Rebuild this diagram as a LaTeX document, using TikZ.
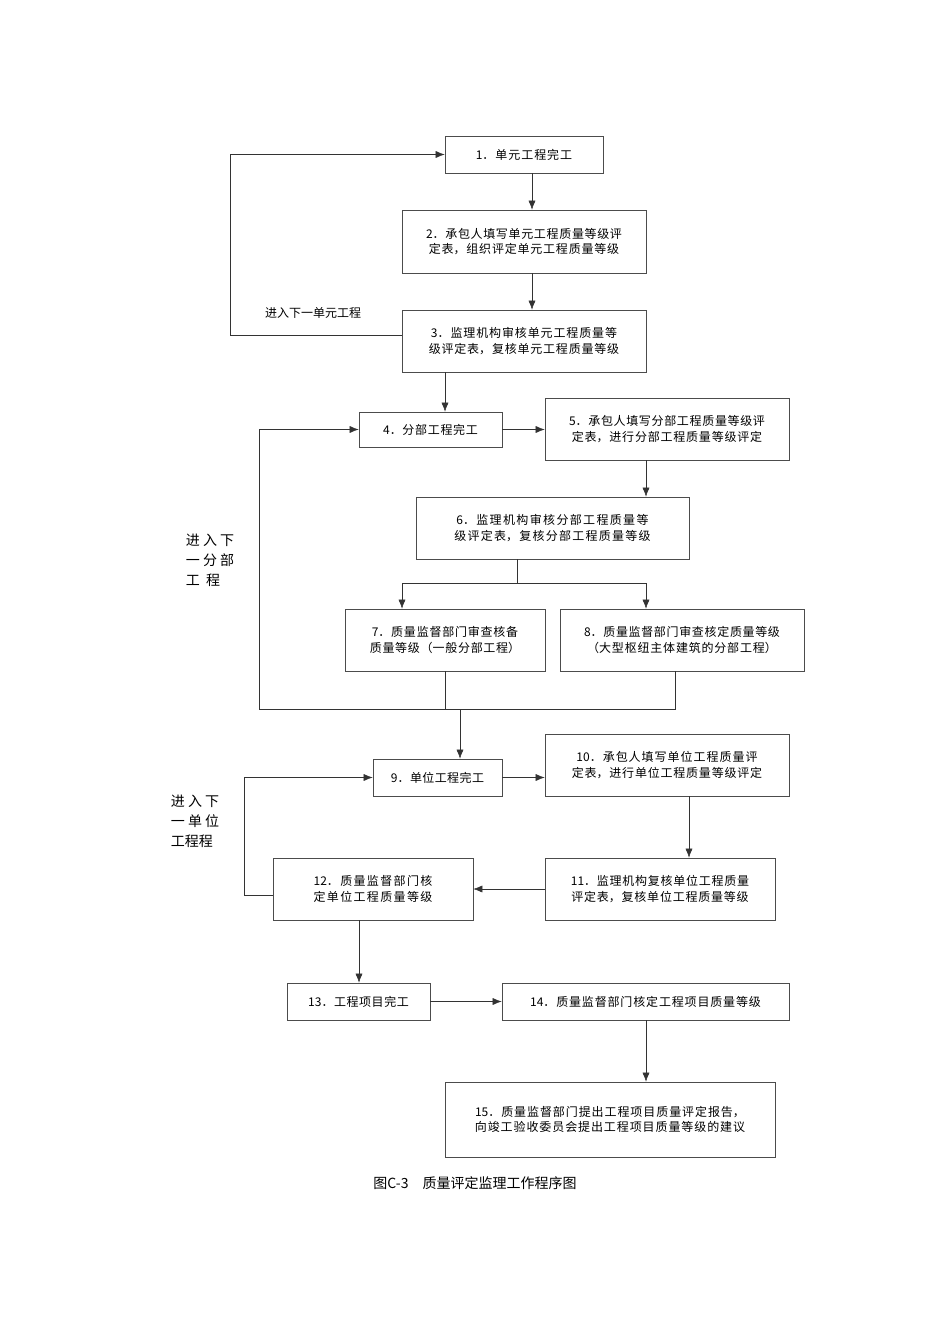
\documentclass[tikz,border=0pt]{standalone}
\usepackage{fontspec}
\setmainfont{Noto Sans CJK SC}
\XeTeXlinebreaklocale "zh"
\XeTeXlinebreakskip=0pt plus 1pt
\usetikzlibrary{arrows.meta,calc}
\tikzset{
  stepbox/.style={draw=black!70, line width=0.6pt, inner sep=2pt, align=center,
    font=\fontsize{12}{15.5}\selectfont},
  flow/.style={-{Latex[length=9pt,width=7pt]}, line width=0.5pt, black!80},
  plain/.style={line width=0.5pt, black!80},
}
% box from left/top/right/bottom in pixels
\newcommand{\flowbox}[6]{%
  \pgfmathsetlengthmacro{\boxW}{(#4-#2)*1pt}%
  \pgfmathsetlengthmacro{\boxH}{(#5-#3)*1pt}%
  \pgfmathsetlengthmacro{\boxT}{(#4-#2-16)*1pt}%
  \node[stepbox, minimum width=\boxW, minimum height=\boxH,
    text width=\boxT] (#1) at ({(#2+#4)/2},{(#3+#5)/2}) {#6};}

\begin{document}
\begin{tikzpicture}[x=1pt,y=-1pt]
    \useasboundingbox (0,0) rectangle (950,1344);

    % ---------- Boxes
    \flowbox{b1}{445}{136}{603}{173}{1．单元工程完工}
    \flowbox{b2}{402}{210}{646}{273}{2．承包人填写单元工程质量等级评定表，组织评定单元工程质量等级}
    \flowbox{b3}{402}{310}{646}{372}{3．监理机构审核单元工程质量等级评定表，复核单元工程质量等级}
    \flowbox{b4}{359}{412}{502}{447}{4．分部工程完工}
    \flowbox{b5}{545}{398}{789}{460}{5．承包人填写分部工程质量等级评定表，进行分部工程质量等级评定}
    \flowbox{b6}{416}{497}{689}{559}{6．监理机构审核分部工程质量等级评定表，复核分部工程质量等级}
    \flowbox{b7}{345}{609}{545}{671}{7．质量监督部门审查核备质量等级（一般分部工程）}
    \flowbox{b8}{560}{609}{804}{671}{8．质量监督部门审查核定质量等级（大型枢纽主体建筑的分部工程）}
    \flowbox{b9}{373}{759}{502}{796}{9．单位工程完工}
    \flowbox{b10}{545}{734}{789}{796}{10．承包人填写单位工程质量评定表，进行单位工程质量等级评定}
    \flowbox{b11}{545}{858}{775}{920}{11．监理机构复核单位工程质量评定表，复核单位工程质量等级}
    \flowbox{b12}{273}{858}{473}{920}{12．质量监督部门核定单位工程质量等级}
    \flowbox{b13}{287}{983}{430}{1020}{13．工程项目完工}
    \flowbox{b14}{502}{983}{789}{1020}{14．质量监督部门核定工程项目质量等级}
    \flowbox{b15}{445}{1082}{775}{1157}{15．质量监督部门提出工程项目质量评定报告，向竣工验收委员会提出工程项目质量等级的建议}

    % ---------- Unit stage
    \draw[flow] (b1.south -| 532,0) -- (b2.north -| 532,0);
    \draw[flow] (b2.south -| 532,0) -- (b3.north -| 532,0);
    \coordinate (loopA) at (230,335);
    \draw[flow] (b3.west |- loopA) -- (loopA) |- (b1.west);
    \node[font=\fontsize{12}{15}\selectfont] (nextUnit) at (313,313) {进入下一单元工程};
    \draw[flow] (b3.south -| 445,0) -- (b4.north -| 445,0);

    % ---------- Division stage
    \draw[flow] (b4.east) -- (b4.east -| b5.west);
    \draw[flow] (b5.south -| 646,0) -- (b6.north -| 646,0);
    \coordinate (split) at (517,583);
    \draw[plain] (b6.south -| split) -- (split);
    \draw[flow] (split) -| (b7.north -| 402,0);
    \draw[flow] (split) -| (b8.north -| 646,0);
    \coordinate (joinL) at (259,709);
    \coordinate (joinR) at (675,709);
    \draw[plain] (b7.south -| 445,0) |- (joinL);
    \draw[plain] (b8.south -| joinR) -- (joinR) -- (joinL);
    \draw[flow] (joinL) |- (b4.west);
    \node[font=\fontsize{14}{20}\selectfont, align=left] (nextDiv) at (210,560) {进 入 下\\一 分 部\\工\ \ 程};
    \draw[flow] (460,709) -- (b9.north -| 460,0);

    % ---------- Unit project stage
    \draw[flow] (b9.east) -- (b9.east -| b10.west);
    \draw[flow] (b10.south -| 689,0) -- (b11.north -| 689,0);
    \draw[flow] (b11.west) -- (b12.east);
    \coordinate (loopB) at (244,895);
    \draw[flow] (b12.west |- loopB) -- (loopB) |- (b9.west);
    \node[font=\fontsize{14}{20}\selectfont, align=left] (nextProj) at (195,821) {进 入 下\\一 单 位\\工程程};

    % ---------- Project stage
    \draw[flow] (b12.south -| 359,0) -- (b13.north -| 359,0);
    \draw[flow] (b13.east) -- (b14.west);
    \draw[flow] (b14.south -| 646,0) -- (b15.north -| 646,0);

    \node[font=\fontsize{14}{18}\selectfont] (caption) at (475,1183) {图C-3\quad 质量评定监理工作程序图};
\end{tikzpicture}
\end{document}
